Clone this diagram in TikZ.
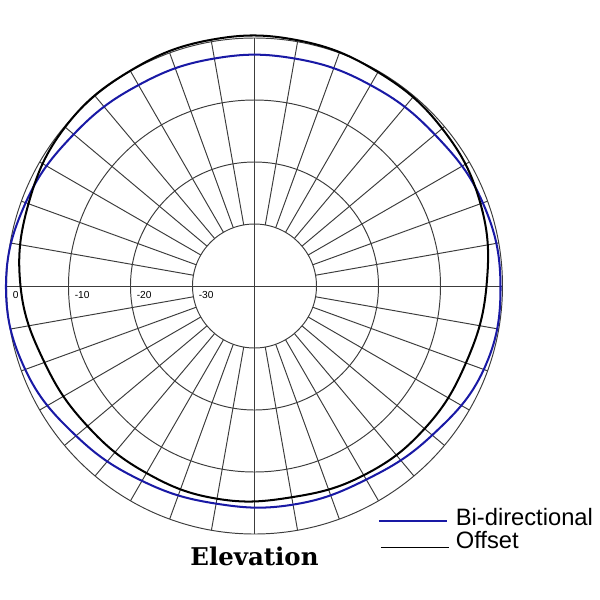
\documentclass[tikz,border=0pt]{standalone}
\usepackage{fontspec}
\setmainfont{Liberation Sans}
\newfontfamily\titlefont{DejaVu Serif}
\usepackage{tikz}
\usetikzlibrary{positioning,calc}

\definecolor{bidir}{RGB}{25,25,165}
\definecolor{gridc}{RGB}{60,60,60}

\begin{document}
\begin{tikzpicture}[
			x = 0.02cm, y = 0.02cm,
			grid/.style = {draw=gridc, line width=0.55pt},
			curve/.style = {line width=1.15pt, line join=round},
			dblabel/.style = {inner sep=0pt, anchor=north west, font=\fontsize{5.8}{7}\selectfont},
			legend/.style = {inner sep=0pt, anchor=base west, font=\fontsize{13.5}{16}\selectfont}
			]

			\def\rin{62}
			\def\rout{248}

			\useasboundingbox (-254.5,-314) rectangle (345.5,286);

			% polar grid
			\foreach \r in {62,124,186,248}
				\draw[grid] (0,0) circle (\r);
			\foreach \a in {10,20,...,350}
				\draw[grid] (\a:\rin) -- (\a:\rout);
			\draw[grid] (-\rout,0) -- (\rout,0);
			\draw[grid] (0,-\rout) -- (0,\rout);

			% level labels
			\node[dblabel] (l0)  at (-242,-5) {0};
			\node[dblabel] (l10) at (-180,-5) {-10};
			\node[dblabel] (l20) at (-118,-5) {-20};
			\node[dblabel] (l30) at (-56,-5)  {-30};

			% patterns
			\draw[curve,bidir] plot[smooth cycle,tension=0.7] coordinates {
				(0:246) (20:243) (40:235.5) (60:232) (80:231) (100:231)
				(120:232) (140:236) (160:243.5) (180:248.5) (200:244) (220:233)
				(240:225) (260:221) (280:222) (300:223.5) (320:232) (340:244)};
			\draw[curve,black] plot[smooth cycle,tension=0.7] coordinates {
				(0:232) (20:240.5) (40:245) (60:247) (80:249.5) (100:250)
				(120:248.5) (140:247.2) (160:240.5) (180:234) (200:223.5) (220:218)
				(240:216) (260:216) (280:214.5) (300:218.5) (320:222) (340:225)};

			% legend
			\coordinate (bia) at (124.5,-235);
			\coordinate (bib) at (192.5,-235);
			\coordinate (ofa) at (126.5,-261.5);
			\coordinate (ofb) at (194.5,-261.5);
			\draw[bidir,line width=0.6pt] (bia) -- (bib);
			\draw[black,line width=0.6pt] (ofa) -- (ofb);
			\node[legend] (bitext) at (201,-239) {Bi-directional};
			\node[legend] (oftext) at (201,-262) {Offset};

			\node[inner sep=0pt, anchor=base, font=\titlefont\bfseries\fontsize{13.9}{16}\selectfont] (title) at (0,-279) {Elevation};

		\end{tikzpicture}
\end{document}
